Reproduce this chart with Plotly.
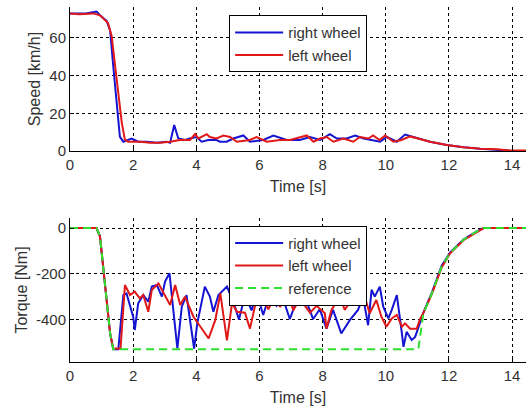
import plotly.graph_objects as go

# ---- Speed data ----
speed_t_right = [0, 0.5, 0.84, 0.95, 1.16, 1.27, 1.37, 1.48, 1.58, 1.69, 1.95, 2.16, 2.43, 2.75, 3.06, 3.17, 3.3, 3.43,
                 3.64, 3.8, 4.0, 4.17, 4.38, 4.64, 4.75, 4.96, 5.17, 5.49, 5.7, 6.12, 6.44, 6.86, 7.28, 7.6, 7.92,
                 8.23, 8.45, 8.76, 9.03, 9.3, 9.6, 9.82, 10.03, 10.35, 10.61, 10.88, 11.4, 11.93, 12.46, 12.99,
                 13.52, 13.94, 14.45]
speed_right = [73, 73, 74, 72, 69, 64, 45, 23.5, 7.6, 5, 6.7, 5, 5, 4.4, 5, 4.4, 13.8, 6.7,
               5.9, 6.7, 7.5, 5, 5.9, 5.9, 5, 5, 6.7, 8.3, 5, 5.9, 8.3, 5.9, 5.9, 7.5, 5.9,
               9, 6.7, 6.7, 8.3, 6.7, 5.9, 5, 7.5, 5, 8.8, 7.5, 5, 3.3, 2, 1.2,
               0.6, 0.2, 0]

speed_t_left = [0, 0.3, 0.74, 0.95, 1.2, 1.32, 1.43, 1.53, 1.64, 1.74, 1.85, 1.9, 2.22, 2.53, 2.85, 3.17, 3.48, 3.8,
                3.96, 4.07, 4.17, 4.33, 4.43, 4.64, 4.86, 5.07, 5.28, 5.7, 5.91, 6.23, 6.65, 6.97, 7.5, 7.71, 7.92,
                8.13, 8.34, 8.66, 8.97, 9.18, 9.45, 9.6, 9.8, 9.98, 10.24, 10.5, 10.77, 11.4, 11.93, 12.46,
                12.99, 13.52, 13.94, 14.45]
speed_left = [73, 72.5, 73, 72, 68, 61, 45, 31, 15, 6, 5, 5, 5, 4.4, 4.4, 5, 5.9, 5.9,
              9, 6.7, 7.5, 9, 7.5, 6.7, 8.3, 7.5, 5, 5.9, 7.5, 5, 5.9, 5.9, 8.3, 5, 6.7,
              7.5, 5, 6.7, 5, 7.5, 6.7, 8.3, 5.9, 8.3, 5, 5.9, 7.8, 5, 3.3, 2,
              1.2, 1.0, 0.3, 0.3]

# ---- Torque data ----
ref_t = [0, 0.84, 0.95, 1.06, 1.16, 1.27, 1.37, 11.03, 11.19, 11.46, 11.77, 12.03, 12.46, 12.88, 13.1, 14.5]
ref_T = [0, 0, -37, -169, -315, -461, -530, -530, -374, -286, -169, -110, -51, -15, 0, 0]

torque_t_right = [0, 0.84, 0.95, 1.06, 1.16, 1.27, 1.37, 1.53, 1.69, 1.79, 2.0, 2.05, 2.16, 2.32, 2.48, 2.59, 2.75,
                  2.91, 3.01, 3.15, 3.27, 3.40, 3.54, 3.69, 3.80, 3.93, 4.03, 4.27, 4.43, 4.54, 4.70, 4.97,
                  5.18, 5.35, 5.54, 5.75, 5.91, 6.12, 6.33, 6.54, 6.75, 6.96, 7.17, 7.43, 7.70, 7.91, 8.12,
                  8.33, 8.59, 8.86, 9.12, 9.28, 9.44, 9.55, 9.65, 9.81, 9.92, 10.08, 10.19, 10.35, 10.51,
                  10.56, 10.66, 10.82, 10.93, 11.05, 11.19, 11.46, 11.77, 12.03, 12.46, 12.88, 13.1, 14.5]
torque_right = [0, 0, -37, -169, -315, -461, -530, -530, -293, -286, -388, -446, -329, -293, -322, -256, -249,
                -300, -234, -198, -344, -527, -344, -293, -403, -527, -417, -256, -300, -366, -293, -256,
                -325, -400, -295, -360, -285, -380, -285, -340, -310, -398, -320, -300, -398, -355, -440,
                -358, -461, -403, -358, -300, -425, -270, -300, -256, -344, -395, -358, -293, -461,
                -520, -454, -490, -476, -430, -370, -282, -165, -108, -50, -14, 0, 0]

torque_t_left = [0, 0.84, 0.95, 1.06, 1.16, 1.27, 1.37, 1.6, 1.69, 1.74, 1.90, 2.05, 2.21, 2.32, 2.48, 2.59, 2.80,
                 2.91, 3.17, 3.33, 3.49, 3.64, 3.91, 4.13, 4.39, 4.60, 4.76, 4.97, 5.13, 5.29, 5.54, 5.70,
                 5.86, 6.07, 6.28, 6.49, 6.65, 6.91, 7.07, 7.28, 7.60, 7.81, 8.07, 8.12, 8.28, 8.54, 8.70,
                 8.91, 9.17, 9.33, 9.49, 9.70, 9.86, 10.02, 10.19, 10.35, 10.51, 10.61, 10.77, 10.98, 11.08,
                 11.19, 11.46, 11.77, 12.03, 12.46, 12.88, 13.1, 14.5]
torque_left = [0, 0, -37, -169, -315, -461, -527, -527, -345, -249, -293, -278, -307, -293, -366, -271, -242,
               -271, -337, -249, -337, -300, -388, -432, -483, -403, -286, -491, -329, -366, -370, -440,
               -340, -300, -355, -300, -345, -285, -360, -310, -370, -340, -373, -440, -358, -300, -358,
               -315, -330, -300, -373, -315, -388, -432, -395, -380, -432, -417, -440, -440, -400,
               -372, -288, -172, -112, -53, -16, 0, 0]

x_ticks = [0, 2, 4, 6, 8, 10, 12, 14]
speed_ticks = [0, 20, 40, 60]
torque_ticks = [0, -200, -400]
torque_ticktext = ["0", "-200", "-400"]

BLUE = "#1414d2"
RED = "#e01818"
GREEN = "#2ee02e"
TXT = "#333333"
FONT = "Liberation Sans, Arial, sans-serif"

fig = go.Figure()
fig.add_trace(go.Scatter(x=speed_t_right, y=speed_right, mode="lines", name="right wheel",
                         line=dict(color=BLUE, width=2), xaxis="x", yaxis="y", legend="legend"))
fig.add_trace(go.Scatter(x=speed_t_left, y=speed_left, mode="lines", name="left wheel",
                         line=dict(color=RED, width=2), xaxis="x", yaxis="y", legend="legend"))
fig.add_trace(go.Scatter(x=torque_t_right, y=torque_right, mode="lines", name="right wheel",
                         line=dict(color=BLUE, width=2), xaxis="x2", yaxis="y2", legend="legend2"))
fig.add_trace(go.Scatter(x=torque_t_left, y=torque_left, mode="lines", name="left wheel",
                         line=dict(color=RED, width=2), xaxis="x2", yaxis="y2", legend="legend2"))
fig.add_trace(go.Scatter(x=ref_t, y=ref_T, mode="lines", name="reference",
                         line=dict(color=GREEN, width=2, dash="8px,5px"), xaxis="x2", yaxis="y2",
                         legend="legend2"))

axis_common = dict(showline=True, linecolor="black", linewidth=1, mirror=False,
                   showgrid=True, gridcolor="black", griddash="dot", gridwidth=1,
                   zeroline=False, ticks="inside", ticklen=4, tickcolor="black",
                   tickfont=dict(family=FONT, size=15, color=TXT))

legend_common = dict(xanchor="left", yanchor="top", bgcolor="white",
                     bordercolor="black", borderwidth=1,
                     font=dict(family=FONT, size=15, color=TXT),
                     tracegroupgap=0, itemwidth=48)

fig.update_layout(
    width=526, height=408,
    margin=dict(l=70, r=0, t=7, b=46),
    paper_bgcolor="white", plot_bgcolor="white",
    font=dict(family=FONT, size=15, color=TXT),
    xaxis=dict(domain=[0, 1], range=[0, 14.44], tickvals=x_ticks, anchor="y",
               title=dict(text="Time [s]", standoff=8, font=dict(size=16)), **axis_common),
    yaxis=dict(domain=[0.594, 1], range=[0, 76.4], tickvals=speed_ticks, anchor="x",
               title=dict(text="Speed [km/h]", standoff=4, font=dict(size=16)), **axis_common),
    xaxis2=dict(domain=[0, 1], range=[0, 14.44], tickvals=x_ticks, anchor="y2",
                title=dict(text="Time [s]", standoff=8, font=dict(size=16)), **axis_common),
    yaxis2=dict(domain=[0, 0.4056], range=[-586, 44], tickvals=torque_ticks, ticktext=torque_ticktext,
                anchor="x2", title=dict(text="Torque [Nm]", standoff=4, font=dict(size=16)), **axis_common),
    legend=dict(x=0.349, y=0.977, **legend_common),
    legend2=dict(x=0.349, y=0.384, **legend_common),
)

fig.write_html("out.html")
